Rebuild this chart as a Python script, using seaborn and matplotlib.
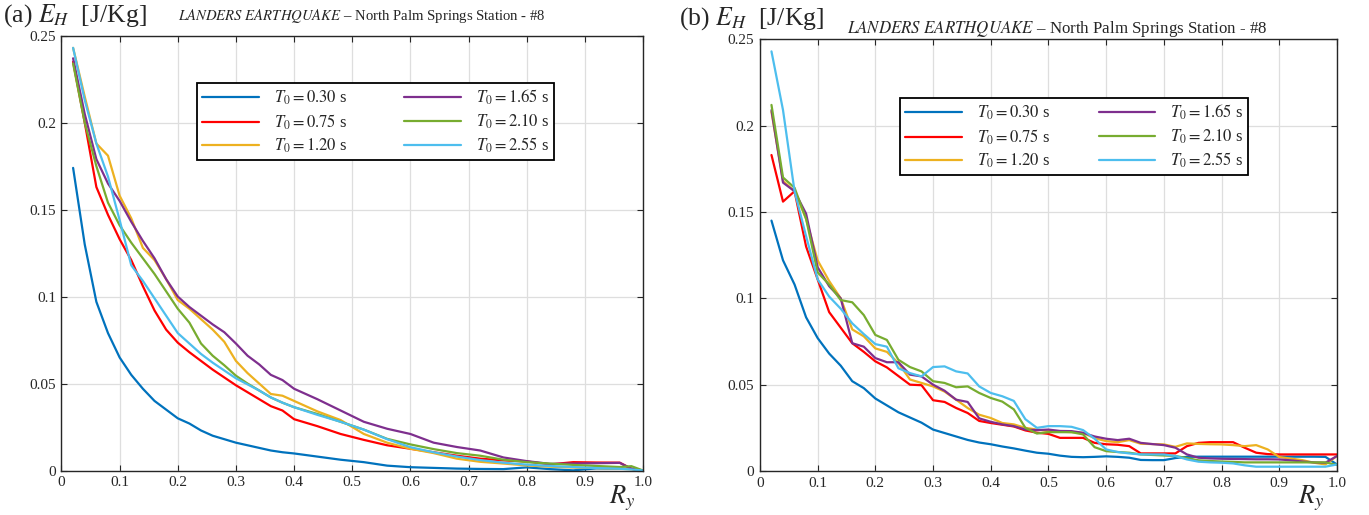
import numpy as np
import pandas as pd
import matplotlib
matplotlib.use("Agg")
import matplotlib.pyplot as plt
import seaborn as sns

# periods and MATLAB-style colours
periods = ["0.30", "0.75", "1.20", "1.65", "2.10", "2.55"]
colors = ["#0072BD", "#FF0000", "#EDB120", "#7E2F8E", "#77AC30", "#4DBEEE"]

# ---- panel (a) ----
ry_a = [0.02, 0.04, 0.06, 0.08, 0.10, 0.12, 0.14, 0.16, 0.18, 0.20, 0.22, 0.24,
        0.26, 0.28, 0.30, 0.32, 0.34, 0.36, 0.38, 0.40, 0.44, 0.48, 0.52, 0.56,
        0.60, 0.64, 0.68, 0.72, 0.76, 0.80, 0.84, 0.88, 0.92, 0.96, 0.98, 1.00]
eh_a_030 = [0.174, 0.130, 0.097, 0.079, 0.065, 0.055, 0.047, 0.040, 0.035, 0.030, 0.027, 0.023,
            0.020, 0.018, 0.016, 0.0145, 0.013, 0.0115, 0.0105, 0.0098, 0.008, 0.0062, 0.0048, 0.0028,
            0.0019, 0.0015, 0.0011, 0.0009, 0.0008, 0.0018, 0.0008, 0.0001, 0.0012, 0.001, 0.001, 0.0]
eh_a_075 = [0.235, 0.200, 0.163, 0.147, 0.133, 0.121, 0.106, 0.092, 0.081, 0.0735, 0.068, 0.063,
            0.058, 0.0535, 0.049, 0.045, 0.041, 0.037, 0.0345, 0.0295, 0.0255, 0.021, 0.0176, 0.0145,
            0.0125, 0.0105, 0.0085, 0.0068, 0.0058, 0.0052, 0.0035, 0.0048, 0.0046, 0.0045, 0.001, 0.0]
eh_a_120 = [0.243, 0.215, 0.188, 0.181, 0.158, 0.145, 0.128, 0.121, 0.110, 0.098, 0.093, 0.087,
            0.081, 0.074, 0.063, 0.056, 0.050, 0.044, 0.043, 0.040, 0.034, 0.029, 0.021, 0.016,
            0.0125, 0.010, 0.0068, 0.005, 0.004, 0.0029, 0.0022, 0.0017, 0.0014, 0.001, 0.0008, 0.0]
eh_a_165 = [0.237, 0.205, 0.179, 0.165, 0.155, 0.143, 0.132, 0.122, 0.110, 0.100, 0.094, 0.089,
            0.084, 0.0795, 0.073, 0.066, 0.061, 0.055, 0.052, 0.047, 0.041, 0.0345, 0.028, 0.024,
            0.021, 0.016, 0.0135, 0.0115, 0.0075, 0.0054, 0.0038, 0.004, 0.0042, 0.0044, 0.001, 0.0]
eh_a_210 = [0.234, 0.200, 0.175, 0.154, 0.141, 0.131, 0.122, 0.113, 0.103, 0.093, 0.085, 0.073,
            0.066, 0.0605, 0.0545, 0.050, 0.046, 0.042, 0.039, 0.0364, 0.0325, 0.028, 0.0235, 0.0182,
            0.015, 0.0123, 0.010, 0.0085, 0.0062, 0.0048, 0.004, 0.0032, 0.0026, 0.002, 0.0025, 0.0]
eh_a_255 = [0.243, 0.213, 0.188, 0.169, 0.144, 0.118, 0.109, 0.099, 0.089, 0.079, 0.073, 0.067,
            0.062, 0.0575, 0.053, 0.0495, 0.046, 0.042, 0.039, 0.0364, 0.032, 0.028, 0.0235, 0.018,
            0.0134, 0.0105, 0.008, 0.006, 0.0045, 0.0034, 0.0026, 0.002, 0.0014, 0.001, 0.0006, 0.0]

# ---- panel (b) ----
ry_b = [0.02, 0.04, 0.06, 0.08, 0.10, 0.12, 0.14, 0.16, 0.18, 0.20, 0.22, 0.24, 0.26,
        0.28, 0.30, 0.32, 0.34, 0.36, 0.38, 0.40, 0.42, 0.44, 0.46, 0.48, 0.50, 0.52,
        0.54, 0.56, 0.58, 0.60, 0.62, 0.64, 0.66, 0.68, 0.70, 0.72, 0.74, 0.76, 0.78,
        0.80, 0.82, 0.84, 0.86, 0.88, 0.90, 0.92, 0.94, 0.96, 0.98, 1.00]
eh_b_030 = [0.145, 0.122, 0.108, 0.089, 0.077, 0.068, 0.061, 0.052, 0.048, 0.042, 0.038, 0.034, 0.031,
            0.028, 0.024, 0.022, 0.020, 0.018, 0.0165, 0.0155, 0.0142, 0.0131, 0.0118, 0.0106, 0.010, 0.0089,
            0.0082, 0.0080, 0.0082, 0.0085, 0.0082, 0.0077, 0.0064, 0.0063, 0.0063, 0.0075, 0.0082, 0.0083, 0.0083,
            0.0083, 0.0083, 0.0083, 0.0083, 0.0083, 0.0083, 0.0083, 0.0083, 0.0083, 0.0082, 0.0038]
eh_b_075 = [0.183, 0.156, 0.162, 0.130, 0.111, 0.092, 0.083, 0.074, 0.069, 0.0635, 0.060, 0.055, 0.050,
            0.0497, 0.041, 0.040, 0.0365, 0.0336, 0.029, 0.0278, 0.0268, 0.0258, 0.0235, 0.0222, 0.0215, 0.0192,
            0.0192, 0.0192, 0.0163, 0.0155, 0.0152, 0.0144, 0.0102, 0.0102, 0.0102, 0.0102, 0.0144, 0.0163, 0.0167,
            0.0167, 0.0167, 0.0135, 0.0106, 0.0098, 0.0096, 0.0096, 0.0096, 0.0096, 0.0096, 0.0096]
eh_b_120 = [0.208, 0.168, 0.162, 0.146, 0.122, 0.110, 0.100, 0.082, 0.078, 0.071, 0.069, 0.0625, 0.053,
            0.051, 0.049, 0.046, 0.0413, 0.0365, 0.0326, 0.0307, 0.0278, 0.027, 0.025, 0.024, 0.0231, 0.0228,
            0.0225, 0.0221, 0.019, 0.0173, 0.0167, 0.0179, 0.0158, 0.0156, 0.0154, 0.014, 0.016, 0.0157, 0.0155,
            0.0154, 0.015, 0.0144, 0.015, 0.0125, 0.0081, 0.0072, 0.0063, 0.0048, 0.0038, 0.0087]
eh_b_165 = [0.209, 0.167, 0.162, 0.149, 0.118, 0.107, 0.100, 0.074, 0.072, 0.0654, 0.063, 0.063, 0.0558,
            0.0548, 0.050, 0.0465, 0.0413, 0.0400, 0.0305, 0.0285, 0.027, 0.026, 0.024, 0.0237, 0.024, 0.0232,
            0.0231, 0.0221, 0.020, 0.0187, 0.0179, 0.0187, 0.0163, 0.0156, 0.015, 0.0135, 0.0096, 0.0077, 0.0073,
            0.0071, 0.0070, 0.0069, 0.0068, 0.0068, 0.0067, 0.0062, 0.0055, 0.0050, 0.0048, 0.0087]
eh_b_210 = [0.212, 0.170, 0.164, 0.146, 0.115, 0.108, 0.099, 0.0977, 0.0903, 0.0788, 0.0759, 0.0644, 0.0602,
            0.0577, 0.052, 0.051, 0.0485, 0.049, 0.0452, 0.0423, 0.0402, 0.0357, 0.025, 0.0217, 0.0225, 0.0225,
            0.0225, 0.0212, 0.0138, 0.0115, 0.011, 0.0106, 0.0096, 0.0093, 0.009, 0.0087, 0.0075, 0.0062, 0.0058,
            0.0055, 0.0053, 0.0050, 0.0050, 0.0050, 0.0050, 0.0050, 0.0050, 0.0050, 0.0050, 0.0035]
eh_b_255 = [0.243, 0.209, 0.162, 0.136, 0.111, 0.101, 0.094, 0.0855, 0.0793, 0.0735, 0.072, 0.0595, 0.0567,
            0.0548, 0.0602, 0.0606, 0.0577, 0.0565, 0.049, 0.0452, 0.0433, 0.0406, 0.030, 0.025, 0.026, 0.026,
            0.0256, 0.0237, 0.0187, 0.0125, 0.011, 0.0102, 0.0096, 0.0096, 0.0096, 0.0087, 0.0067, 0.0054, 0.005,
            0.0048, 0.0044, 0.0033, 0.0025, 0.0025, 0.0025, 0.0025, 0.0025, 0.0025, 0.0025, 0.0038]

xtick_vals = [0, 0.1, 0.2, 0.3, 0.4, 0.5, 0.6, 0.7, 0.8, 0.9, 1.0]
xtick_labels = ["0", "0.1", "0.2", "0.3", "0.4", "0.5", "0.6", "0.7", "0.8", "0.9", "1.0"]
ytick_vals = [0, 0.05, 0.1, 0.15, 0.2, 0.25]
ytick_labels = ["0", "0.05", "0.1", "0.15", "0.2", "0.25"]


def long_form(ry, series):
    frames = [pd.DataFrame({"Ry": ry, "EH": vals, "T0": p}) for p, vals in zip(periods, series)]
    return pd.concat(frames, ignore_index=True)


sns.set_theme(style="whitegrid")
plt.rcParams["font.family"] = ["Liberation Serif", "DejaVu Serif"]
plt.rcParams["mathtext.fontset"] = "stix"

fig = plt.figure(figsize=(13.69, 5.15), dpi=100)
ax_a = fig.add_axes([0.0449, 0.0864, 0.4248, 0.8443])
ax_b = fig.add_axes([0.5551, 0.0854, 0.4215, 0.8383])

panels = [
    (ax_a, long_form(ry_a, [eh_a_030, eh_a_075, eh_a_120, eh_a_165, eh_a_210, eh_a_255]),
     (0.233, 0.709, 0.614, 0.182)),
    (ax_b, long_form(ry_b, [eh_b_030, eh_b_075, eh_b_120, eh_b_165, eh_b_210, eh_b_255]),
     (0.2426, 0.686, 0.604, 0.178)),
]

for ax, df, box in panels:
    sns.lineplot(data=df, x="Ry", y="EH", hue="T0", palette=dict(zip(periods, colors)),
                 estimator=None, sort=False, linewidth=1.6, legend=False, ax=ax)
    ax.set_xlim(0, 1)
    ax.set_ylim(0, 0.25)
    ax.set_xticks(xtick_vals)
    ax.set_xticklabels(xtick_labels)
    ax.set_yticks(ytick_vals)
    ax.set_yticklabels(ytick_labels)
    ax.set_xlabel("")
    ax.set_ylabel("")
    ax.grid(True, color="#dedede", linewidth=0.9)
    ax.tick_params(direction="in", length=4, width=0.8, top=True, right=True,
                   bottom=True, left=True, labelsize=11, colors="#262626", pad=4)
    for sp in ax.spines.values():
        sp.set_visible(True)
        sp.set_color("#262626")
        sp.set_linewidth(1.0)
    labels = [rf"$T_0 = {p}$ s" for p in periods]
    leg = ax.legend(ax.lines[:6], labels, ncol=2, loc="upper left", bbox_to_anchor=box,
                    mode="expand", borderaxespad=0, fontsize=12, frameon=True, fancybox=False,
                    framealpha=1, edgecolor="black", handlelength=3.4, handletextpad=0.9,
                    columnspacing=2.0, labelspacing=0.3, borderpad=0.3)
    leg.get_frame().set_linewidth(1.3)

# headers
fig.text(0.002, 0.943, r"(a) $E_H$  [J/Kg]", fontsize=18.5, ha="left", va="bottom")
fig.text(0.13, 0.952, r"$\mathit{LANDERS\ EARTHQUAKE}$ – North Palm Springs Station - #8",
         fontsize=10.6, ha="left", va="bottom", color="#262626")
fig.text(0.496, 0.938, r"(b) $E_H$  [J/Kg]", fontsize=18.5, ha="left", va="bottom")
fig.text(0.619, 0.925, r"$\mathit{LANDERS\ EARTHQUAKE}$ – North Palm Springs Station - #8",
         fontsize=12.2, ha="left", va="bottom", color="#262626")
fig.text(0.445, 0.004, r"$R_y$", fontsize=19, ha="left", va="bottom")
fig.text(0.948, 0.004, r"$R_y$", fontsize=19, ha="left", va="bottom")

fig.savefig("out.png", dpi=100)
